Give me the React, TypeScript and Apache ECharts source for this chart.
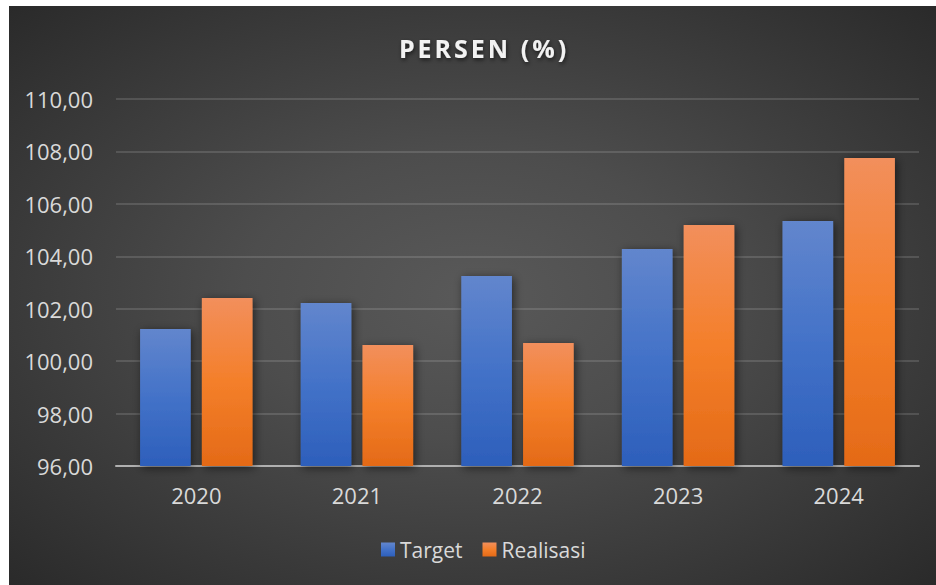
import React, { useEffect, useRef } from "react";
import * as echarts from "echarts";

const categories = ["2020", "2021", "2022", "2023", "2024"];
const targetValues = [101.23, 102.22, 103.25, 104.28, 105.35];
const realisasiValues = [102.41, 100.62, 100.69, 105.19, 107.75];
const seriesNames = ["Target", "Realisasi"];
const titleText = "PERSEN (%)";

const FONT = "'Open Sans', 'Noto Sans', sans-serif";

export default function App() {
  const ref = useRef<HTMLDivElement>(null);

  useEffect(() => {
    document.body.style.margin = "0";
    if (!ref.current) return;
    const chart = echarts.init(ref.current, null, { renderer: "svg" });

    const blue = new echarts.graphic.LinearGradient(0, 0, 0, 1, [
      { offset: 0, color: "#6286cd" },
      { offset: 0.5, color: "#4372c8" },
      { offset: 1, color: "#2d5fbb" },
    ]);
    const orange = new echarts.graphic.LinearGradient(0, 0, 0, 1, [
      { offset: 0, color: "#f28f5c" },
      { offset: 0.5, color: "#f47f2a" },
      { offset: 1, color: "#e46a17" },
    ]);

    const shadow = {
      shadowBlur: 10,
      shadowColor: "rgba(0,0,0,0.55)",
      shadowOffsetX: 2,
      shadowOffsetY: 2,
    };

    chart.setOption({
      animation: false,
      backgroundColor: "transparent",
      title: {
        text: titleText,
        left: 470,
        top: 24,
        textAlign: "center",
        textStyle: {
          color: "#f2f2f2",
          fontFamily: FONT,
          fontWeight: "bold",
          fontSize: 25,
          textShadowColor: "rgba(0,0,0,0.6)",
          textShadowBlur: 4,
          textShadowOffsetX: 1,
          textShadowOffsetY: 2,
        },
      },
      legend: {
        data: seriesNames,
        left: 367,
        top: 528,
        padding: 5,
        icon: "rect",
        itemWidth: 14,
        itemHeight: 14,
        itemGap: 20,
        textStyle: { color: "#d9d9d9", fontFamily: FONT, fontSize: 21 },
        itemStyle: { shadowBlur: 0, shadowColor: "transparent" },
      },
      grid: { left: 107, right: 17, top: 93, bottom: 119 },
      xAxis: {
        type: "category",
        data: categories,
        axisTick: { show: false },
        axisLine: { lineStyle: { color: "#b0b0b0", width: 2 } },
        axisLabel: {
          color: "#d9d9d9",
          fontFamily: FONT,
          fontSize: 22,
          margin: 18,
        },
      },
      yAxis: {
        type: "value",
        min: 96,
        max: 110,
        interval: 2,
        axisLine: { show: false },
        axisTick: { show: false },
        splitLine: { lineStyle: { color: "rgba(217,217,217,0.22)", width: 1.5 } },
        axisLabel: {
          color: "#d9d9d9",
          fontFamily: FONT,
          fontSize: 22,
          margin: 23,
          formatter: (v: number) => v.toFixed(2).replace(".", ","),
        },
      },
      series: [
        {
          name: seriesNames[0],
          type: "bar",
          data: targetValues,
          barGap: "22%",
          barCategoryGap: "30%",
          itemStyle: { color: blue, ...shadow },
        },
        {
          name: seriesNames[1],
          type: "bar",
          data: realisasiValues,
          barGap: "22%",
          barCategoryGap: "30%",
          itemStyle: { color: orange, ...shadow },
        },
      ],
    });

    const spaceTitle = () => {
      const dom = ref.current;
      if (!dom) return;
      dom.querySelectorAll("text").forEach((t) => {
        if (t.textContent === titleText) t.setAttribute("letter-spacing", "3px");
      });
    };
    spaceTitle();
    chart.on("finished", spaceTitle);

    return () => {
      chart.dispose();
    };
  }, []);

  return (
    <div
      style={{
        position: "absolute",
        left: 0,
        top: 0,
        width: 936,
        height: 585,
        background: "#ffffff",
      }}
    >
      <div
        ref={ref}
        style={{
          position: "absolute",
          left: 9,
          top: 6,
          width: 927,
          height: 579,
          background:
            "radial-gradient(ellipse farthest-corner at 50% 50%, #595959 0%, #4d4d4d 35%, #2a2a2a 100%)",
        }}
      />
    </div>
  );
}
